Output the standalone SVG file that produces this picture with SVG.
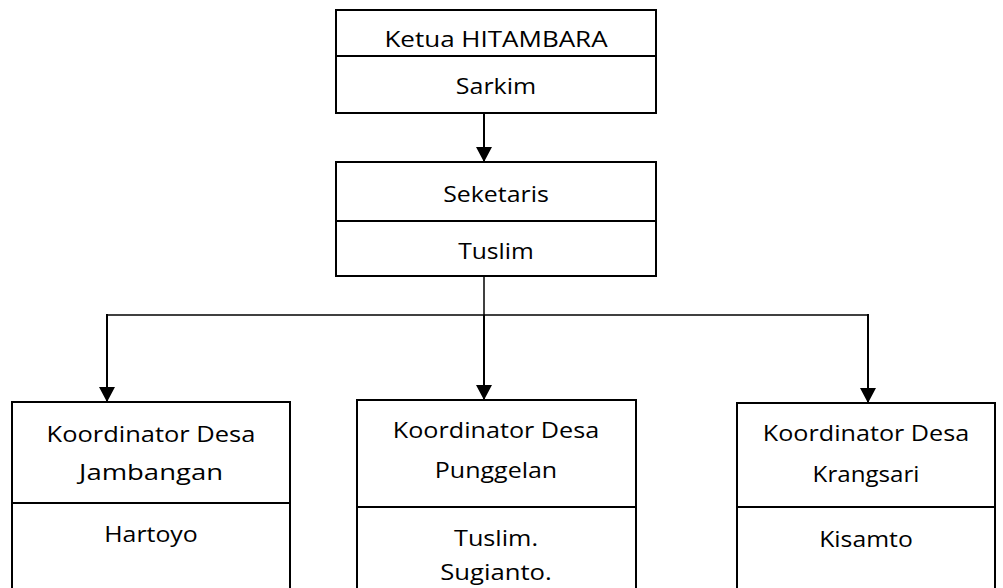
<svg xmlns="http://www.w3.org/2000/svg" width="1003" height="588" viewBox="0 0 1003 588">
  <style>
    .box { fill: #ffffff; stroke: #000000; stroke-width: 2; }
    .div { stroke: #000000; stroke-width: 2; fill: none; }
    .con { stroke: #000000; stroke-width: 2; fill: none; }
    .thin { stroke: #000000; stroke-width: 1.5; fill: none; }
    text { font-family: "Open Sans", "Liberation Sans", sans-serif; font-size: 21px; fill: #000000; text-anchor: middle; }
  </style>
  <defs>
    <marker id="arr" markerUnits="userSpaceOnUse" viewBox="0 0 15 16" refX="15" refY="8" markerWidth="15" markerHeight="16" orient="auto">
      <path d="M0,0 L15,8 L0,16 z" fill="#000000"/>
    </marker>
  </defs>
  <rect width="1003" height="588" fill="#ffffff"/>

  <g id="connectors">
    <line class="con" x1="484" y1="113" x2="484" y2="162" marker-end="url(#arr)"/>
    <line class="thin" x1="484" y1="276" x2="484" y2="315"/>
    <line class="thin" x1="107" y1="315" x2="868" y2="315"/>
    <line class="con" x1="107" y1="314" x2="107" y2="402" marker-end="url(#arr)"/>
    <line class="con" x1="484" y1="315" x2="484" y2="400" marker-end="url(#arr)"/>
    <line class="con" x1="868" y1="314" x2="868" y2="403" marker-end="url(#arr)"/>
  </g>

  <g id="ketua">
    <rect class="box" x="336" y="10" width="320" height="103"/>
    <line class="div" x1="336" y1="56" x2="656" y2="56"/>
    <text transform="translate(496,47) scale(1.2,1)" textLength="186" lengthAdjust="spacingAndGlyphs">Ketua HITAMBARA</text>
    <text transform="translate(496,94) scale(1.2,1)" textLength="67" lengthAdjust="spacingAndGlyphs">Sarkim</text>
  </g>

  <g id="seketaris">
    <rect class="box" x="336" y="162" width="320" height="114"/>
    <line class="div" x1="336" y1="221" x2="656" y2="221"/>
    <text transform="translate(496,202) scale(1.2,1)" textLength="88" lengthAdjust="spacingAndGlyphs">Seketaris</text>
    <text transform="translate(496,259) scale(1.2,1)" textLength="63" lengthAdjust="spacingAndGlyphs">Tuslim</text>
  </g>

  <g id="jambangan">
    <rect class="box" x="12" y="402" width="278" height="200"/>
    <line class="div" x1="12" y1="503" x2="290" y2="503"/>
    <text transform="translate(151,442) scale(1.2,1)" textLength="174" lengthAdjust="spacingAndGlyphs">Koordinator Desa</text>
    <text transform="translate(151,480) scale(1.2,1)" textLength="120" lengthAdjust="spacingAndGlyphs">Jambangan</text>
    <text transform="translate(151,542) scale(1.2,1)" textLength="78" lengthAdjust="spacingAndGlyphs">Hartoyo</text>
  </g>

  <g id="punggelan">
    <rect class="box" x="357" y="400" width="279" height="200"/>
    <line class="div" x1="357" y1="507" x2="636" y2="507"/>
    <text transform="translate(496,438) scale(1.2,1)" textLength="172" lengthAdjust="spacingAndGlyphs">Koordinator Desa</text>
    <text transform="translate(496,478) scale(1.2,1)" textLength="102" lengthAdjust="spacingAndGlyphs">Punggelan</text>
    <text transform="translate(496,546) scale(1.2,1)" textLength="70" lengthAdjust="spacingAndGlyphs">Tuslim.</text>
    <text transform="translate(496,580) scale(1.2,1)" textLength="93" lengthAdjust="spacingAndGlyphs">Sugianto.</text>
  </g>

  <g id="krangsari">
    <rect class="box" x="737" y="403" width="258" height="200"/>
    <line class="div" x1="737" y1="507" x2="995" y2="507"/>
    <text transform="translate(866,441) scale(1.2,1)" textLength="172" lengthAdjust="spacingAndGlyphs">Koordinator Desa</text>
    <text transform="translate(866,482) scale(1.2,1)" textLength="89" lengthAdjust="spacingAndGlyphs">Krangsari</text>
    <text transform="translate(866,547) scale(1.2,1)" textLength="78" lengthAdjust="spacingAndGlyphs">Kisamto</text>
  </g>
</svg>
